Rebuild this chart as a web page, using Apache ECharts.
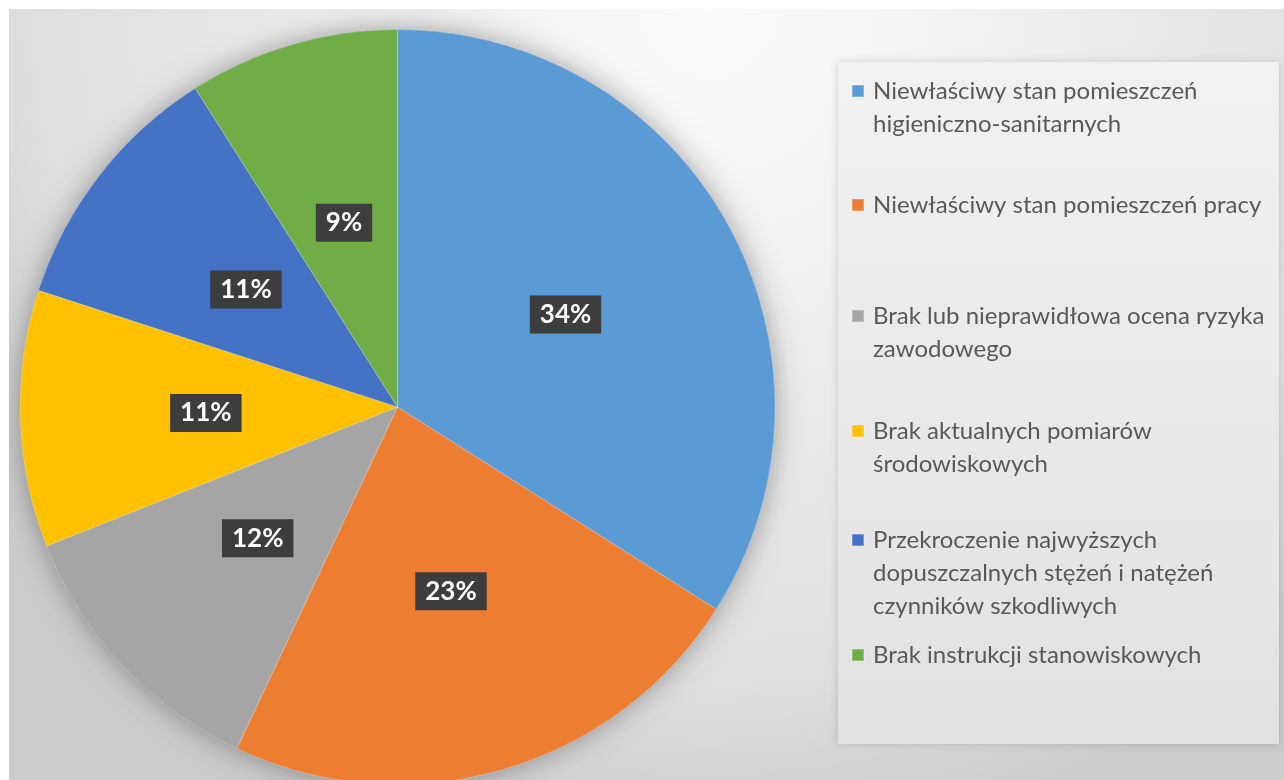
<!DOCTYPE html>
<html>
<head>
<meta charset="utf-8">
<script src="https://cdn.jsdelivr.net/npm/echarts@6/dist/echarts.min.js"></script>
<style>
  html, body { margin: 0; padding: 0; background: #ffffff; }
  #chart { position: absolute; left: 9px; top: 9px; width: 1275px; height: 771px; }
</style>
</head>
<body>
<div id="chart"></div>
<script>
// ---- data ----
const categories = [
  'Niewłaściwy stan pomieszczeń higieniczno-sanitarnych',
  'Niewłaściwy stan pomieszczeń pracy',
  'Brak lub nieprawidłowa ocena ryzyka zawodowego',
  'Brak aktualnych pomiarów środowiskowych',
  'Przekroczenie najwyższych dopuszczalnych stężeń i natężeń czynników szkodliwych',
  'Brak instrukcji stanowiskowych'
];
const values = [34, 23, 12, 11, 11, 9];
const legendText = [
  'Niewłaściwy stan pomieszczeń\nhigieniczno-sanitarnych',
  'Niewłaściwy stan pomieszczeń pracy',
  'Brak lub nieprawidłowa ocena ryzyka\nzawodowego',
  'Brak aktualnych pomiarów\nśrodowiskowych',
  'Przekroczenie najwyższych\ndopuszczalnych stężeń i natężeń\nczynników szkodliwych',
  'Brak instrukcji stanowiskowych'
];
const colors = ['#5B9BD5', '#ED7D31', '#A5A5A5', '#FFC000', '#4472C4', '#70AD47'];

// ---- layout ----
const LH = 33;
const firstLineY = [82, 196, 307, 422, 531, 646];

const chart = echarts.init(document.getElementById('chart'));

const legends = categories.map((name, i) => {
  const n = legendText[i].split('\n').length;
  const pad = '\n'.repeat(n - 1);
  return {
    data: [name],
    orient: 'vertical',
    left: 842,
    top: firstLineY[i] - (n - 1) * LH - LH / 2,
    padding: 0,
    itemWidth: 20,
    itemHeight: 12,
    icon: 'path://M0,0h12v12h-12z',
    selectedMode: false,
    formatter: () => pad + legendText[i],
    textStyle: {
      fontFamily: 'Lato',
      fontSize: 24,
      lineHeight: LH,
      color: '#595959'
    }
  };
});

chart.setOption({
  backgroundColor: {
    type: 'radial', x: 0.55, y: 0, r: 1.1,
    colorStops: [
      { offset: 0, color: '#fbfbfb' },
      { offset: 0.45, color: '#ececec' },
      { offset: 0.8, color: '#dedede' },
      { offset: 1, color: '#cbcbcb' }
    ]
  },
  graphic: [{
    type: 'rect',
    z: -1,
    shape: { x: 829, y: 53, width: 441, height: 682 },
    style: {
      fill: {
        type: 'linear', x: 0, y: 0, x2: 0, y2: 1,
        colorStops: [
          { offset: 0, color: '#f1f1f1' },
          { offset: 1, color: '#e1e1e1' }
        ]
      },
      shadowBlur: 8,
      shadowColor: 'rgba(0,0,0,0.15)'
    }
  }],
  legend: legends,
  series: [
    {
      type: 'pie',
      z: 1,
      silent: true,
      center: [388.5, 398],
      radius: 377.5,
      data: [{ value: 1, name: '__shadow__' }],
      label: { show: false },
      labelLine: { show: false },
      itemStyle: {
        color: '#999999',
        shadowBlur: 28,
        shadowColor: 'rgba(0,0,0,0.35)'
      },
      animation: false
    },
    {
      type: 'pie',
      z: 2,
      center: [388.5, 398],
      radius: 377.5,
      startAngle: 90,
      clockwise: true,
      animation: false,
      data: categories.map((name, i) => ({ name: name, value: values[i] })),
      color: colors,
      itemStyle: {
        borderColor: 'rgba(235,240,248,0.3)',
        borderWidth: 1
      },
      label: {
        show: true,
        position: 'inside',
        formatter: '{c}%',
        fontFamily: 'Lato',
        fontWeight: 'bold',
        fontSize: 26,
        lineHeight: 26,
        color: '#ffffff',
        backgroundColor: '#3d3d3d',
        padding: [6, 10]
      },
      labelLine: { show: false },
      emphasis: { disabled: true }
    }
  ]
});
</script>
</body>
</html>
